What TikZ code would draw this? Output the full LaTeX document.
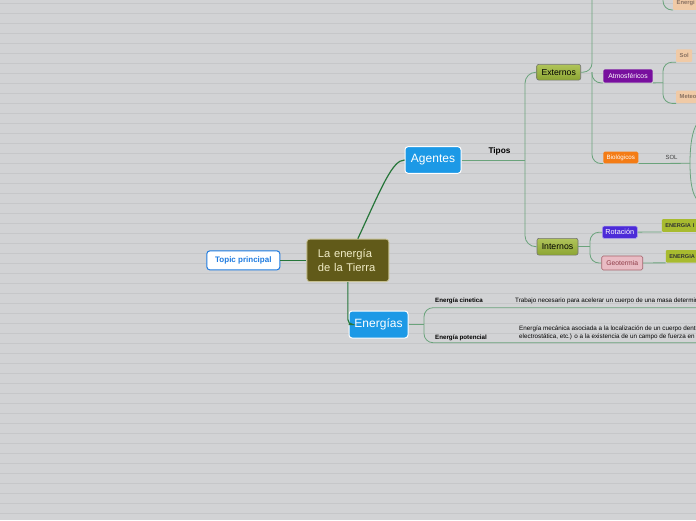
\documentclass[tikz,border=0pt]{standalone}
\usepackage{fontspec}
\setmainfont{Liberation Sans}
\usetikzlibrary{shapes,calc}

\definecolor{bgcol}{HTML}{D2D3D5}
\definecolor{gridcol}{HTML}{C6C7C9}
\definecolor{olive}{HTML}{615A19}
\definecolor{cream}{HTML}{F1ECC6}
\definecolor{darkline}{HTML}{26763A}
\definecolor{lightline}{HTML}{6AA37B}
\definecolor{bluebox}{HTML}{1C99E6}
\definecolor{topicblue}{HTML}{1E7BE0}
\definecolor{greentop}{HTML}{B0C45A}
\definecolor{greenbot}{HTML}{8CA533}
\definecolor{purplebox}{HTML}{780F9E}
\definecolor{orangebox}{HTML}{F47C15}
\definecolor{violetbox}{HTML}{4C2BD8}
\definecolor{pinkbox}{HTML}{E9BCC4}
\definecolor{pinktext}{HTML}{8E3B47}
\definecolor{peachbox}{HTML}{F0CAA6}
\definecolor{peachtext}{HTML}{8A7262}
\definecolor{limebox}{HTML}{A8BB2F}

\newcommand{\fsz}[1]{\fontsize{#1}{#1}\selectfont}

\begin{document}
\begin{tikzpicture}[x=1pt,y=-1pt,
  centralbox/.style={fill=olive,draw=cream!70!olive,line width=0.8pt,rounded corners=3pt,text=cream,
    minimum width=82pt,minimum height=42.5pt,text width=60pt,align=left,inner sep=0pt,
    font=\fontsize{11.2}{13.7}\selectfont},
  topicbox/.style={fill=white,draw=topicblue,line width=1pt,rounded corners=3pt,text=topicblue,
    minimum width=73pt,minimum height=19pt,inner sep=0pt,font=\bfseries\fsz{8}},
  mainbox/.style={fill=bluebox,draw=white,line width=1pt,rounded corners=3pt,text=white,
    minimum height=26.6pt,inner sep=0pt,font=\fsz{12}},
  subbox/.style={top color=greentop,bottom color=greenbot,draw=black!55,line width=0.6pt,
    rounded corners=2pt,inner sep=0pt,font=\fsz{8.7}},
  leafbox/.style={rounded corners=1.5pt,inner sep=0pt,text=white,font=\fsz{6.8}},
  tagbox/.style={fill=peachbox,text=peachtext,rounded corners=1pt,inner xsep=3.5pt,inner ysep=0pt,
    minimum height=12.6pt,anchor=west,font=\bfseries\fsz{5.8}},
  energybox/.style={fill=limebox,text=black!80,rounded corners=1pt,inner xsep=3.5pt,inner ysep=0pt,
    minimum height=12.6pt,anchor=west,font=\bfseries\fsz{5.6}},
  cutbox/.style={text width=40pt,align=left},
  notetext/.style={anchor=west,inner sep=0pt,font=\fsz{6.3},align=left},
  mainlink/.style={darkline,line width=1.2pt},
  link/.style={lightline,line width=0.8pt,rounded corners=9pt}]
\useasboundingbox (0,0) rectangle (696,520);
\clip (0,0) rectangle (696,520);
\fill[bgcol] (0,0) rectangle (696,520);
\foreach \y in {3.3,13.3,...,520}
  \draw[gridcol,line width=0.8pt] (0,\y) -- (696,\y);

\node[centralbox] (N0) at (347.85,260.35) {La energía\\de la Tierra};
\node[topicbox] (T0) at (243.35,260.35) {Topic principal};
\node[mainbox,minimum width=56pt] (N1) at (433,160) {Agentes};
\node[mainbox,minimum width=59pt,minimum height=27pt] (N2) at (378.5,324.5) {Energías};

\node[subbox,minimum width=44pt,minimum height=15.7pt] (N11) at (558.7,72.2) {Externos};
\node[subbox,minimum width=41pt,minimum height=16.7pt] (N12) at (557.5,246.7) {Internos};
\node[font=\bfseries\fsz{8.3}] (L1) at (499.5,151.5) {Tipos};

\node[leafbox,fill=purplebox,minimum width=49.4pt,minimum height=13.4pt] (N111) at (628,76) {Atmosféricos};
\node[leafbox,fill=orangebox,minimum width=35pt,minimum height=11.7pt,font=\fsz{6.2}] (N112) at (620.8,157.5) {Biológicos};
\node[leafbox,fill=violetbox,draw=violetbox!45!white,line width=0.6pt,minimum width=35pt,minimum height=12.3pt,font=\fsz{7.3}] (N121) at (619.8,232.2) {Rotación};
\node[leafbox,fill=pinkbox,draw=pinktext!80,line width=0.6pt,text=pinktext,minimum width=41pt,minimum height=14pt,font=\fsz{6.8}] (N122) at (622.2,263) {Geotermia};

\node[tagbox] (S1) at (676,55.7) {Sol};
\node[tagbox,cutbox] (S2) at (676,96.85) {Meteo};
\node[tagbox,cutbox] (S0) at (673,3.5) {Energi};
\node[text=black!75,font=\fsz{6}] (L2) at (671.5,157.7) {SOL};
\node[energybox,cutbox] (E1) at (661.7,225.5) {ENERGIA I};
\node[energybox,cutbox] (E2) at (665.7,256.35) {ENERGIA};

\node[notetext,font=\bfseries\fsz{6.2}] (C1) at (435,301) {Energía cinetica};
\node[notetext] (D1) at (515,301) {Trabajo necesario para acelerar un cuerpo de una masa determinada};
\node[notetext,font=\bfseries\fsz{6.2}] (C2) at (435,337.5) {Energía potencial};
\node[notetext,font=\fontsize{6.3}{8}\selectfont] (D2) at (519,333) {Energía mecánica asociada a la localización de un cuerpo dentro\\electrostática, etc.) o a la existencia de un campo de fuerza en};

\coordinate (J1) at (525,160);
\coordinate (J11) at (592,72.2);
\coordinate (U1) at (592,-10);
\coordinate (U2) at (663,-20);
\coordinate (J111) at (663,82.7);
\coordinate (J112) at (690,163.3);
\coordinate (R1) at (706,118);
\coordinate (R2) at (706,204);
\coordinate (J12) at (590,246.7);
\coordinate (J2) at (424,324.5);
\coordinate (K1) at (700,307.7);
\coordinate (K2) at (700,342.7);

\draw[mainlink] (T0) -- (N0);
\draw[mainlink] ([xshift=10pt]N0.north) .. controls +(24,-52) and +(-12,0) .. (N1.west);
\draw[mainlink,rounded corners=5pt] (N0.south) |- (N2.west);

\draw[link] (N1) -- (J1);
\draw[link,rounded corners=11pt] (J1) |- (N11);
\draw[link,rounded corners=11pt] (J1) |- (N12);
\draw[link] (N11) -- (J11) -- (U1);
\draw[link] (J11) |- (N111.south west);
\draw[link] (J11) |- (N112.south west);
\draw[link] (N111.south east) -- (J111);
\draw[link] (J111) |- (S1.south west);
\draw[link] (J111) |- (S2.south west);
\draw[link] (U2) |- (S0.south west);
\draw[link] (N112.south east) -- (J112);
\draw[link] (J112) .. controls +(0,-30) and +(-10,0) .. (R1);
\draw[link] (J112) .. controls +(0,30) and +(-10,0) .. (R2);
\draw[link] (N12) -- (J12);
\draw[link] (J12) |- (N121);
\draw[link] (J12) |- (N122);
\draw[link] (N121) -- (E1.south west);
\draw[link] (N122) -- (E2.south west);

\draw[link] (N2) -- (J2);
\draw[link] (J2) |- (K1);
\draw[link] (J2) |- (K2);
\end{tikzpicture}
\end{document}
